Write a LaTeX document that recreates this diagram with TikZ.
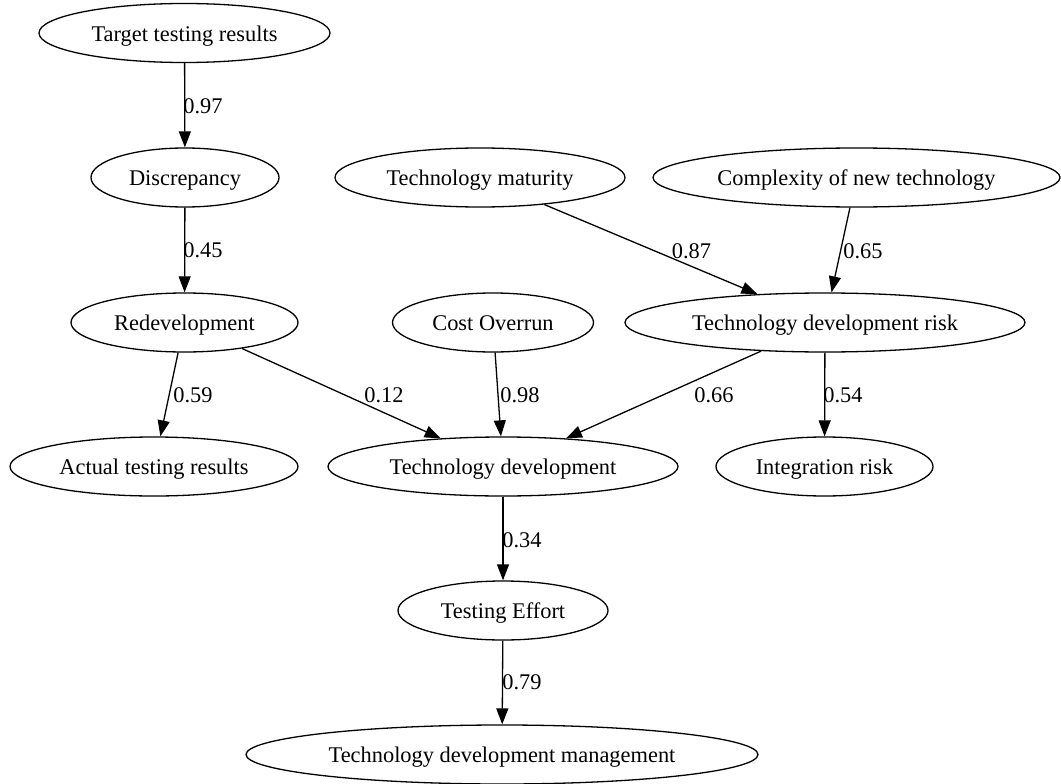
\documentclass[tikz,border=0pt]{standalone}
\usepackage{fontspec}
\setmainfont{Liberation Serif}
\usetikzlibrary{arrows.meta,shapes.geometric}
\begin{document}
\begin{tikzpicture}[x=1pt,y=-1pt,
  every node/.style={font=\fontsize{22.4}{26}\selectfont},
  var/.style={draw, ellipse, line width=1.3pt, inner sep=0pt, minimum height=59pt,
              text height=20pt, text depth=3.2pt},
  link/.style={line width=1.3pt, -{Triangle[length=16pt,width=12pt]}},
  wt/.style={inner sep=0pt}]
\useasboundingbox (0,0) rectangle (1061,784);

% variables
\node[var, minimum width=291pt] (target) at (184.5,33)    {Target testing results};
\node[var, minimum width=188pt] (disc)   at (185,177.5)   {Discrepancy};
\node[var, minimum width=290pt] (mat)    at (480,177.5)   {Technology maturity};
\node[var, minimum width=407pt] (cplx)   at (856.5,177.5) {Complexity of new technology};
\node[var, minimum width=227pt] (redev)  at (184.5,322.5) {Redevelopment};
\node[var, minimum width=201pt] (cost)   at (493,322.5)   {Cost Overrun};
\node[var, minimum width=400pt] (tdr)    at (825,322.5)   {Technology development risk};
\node[var, minimum width=288pt] (atr)    at (154,466.5)   {Actual testing results};
\node[var, minimum width=350pt] (td)     at (503,466.5)   {Technology development};
\node[var, minimum width=217pt] (integ)  at (824.5,466.5) {Integration risk};
\node[var, minimum width=210pt] (effort) at (503,610.5)   {Testing Effort};
\node[var, minimum width=512pt] (tdm)    at (502,754.5)   {Technology development management};

% dependencies
\draw[link] (target) -- (disc);
\draw[link] (disc)   -- (redev);
\draw[link] (mat)    -- (tdr);
\draw[link] (cplx)   -- (tdr);
\draw[link] (redev)  -- (atr);
\draw[link] (redev)  -- (td);
\draw[link] (cost)   -- (td);
\draw[link] (tdr)    -- (td);
\draw[link] (tdr)    -- (integ);
\draw[link] (td)     -- (effort);
\draw[link] (effort) -- (tdm);

% weights
\node[wt] (w97) at (203,106)   {0.97};
\node[wt] (w45) at (203,250)   {0.45};
\node[wt] (w87) at (691.5,251) {0.87};
\node[wt] (w65) at (863,251)   {0.65};
\node[wt] (w59) at (193,395)   {0.59};
\node[wt] (w12) at (384,395)   {0.12};
\node[wt] (w98) at (520,395)   {0.98};
\node[wt] (w66) at (714,395)   {0.66};
\node[wt] (w54) at (843,395)   {0.54};
\node[wt] (w34) at (522,540)   {0.34};
\node[wt] (w79) at (522,682)   {0.79};
\end{tikzpicture}
\end{document}
